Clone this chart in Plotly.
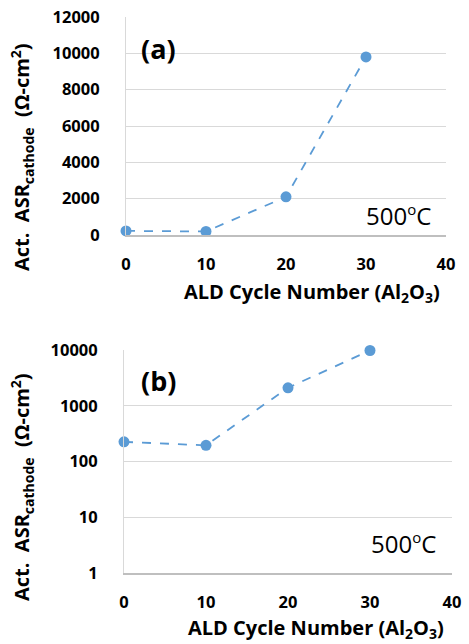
import plotly.graph_objects as go

cycles = [0, 10, 20, 30]
asr = [225, 195, 2100, 9800]
lin_ticks = [0, 2000, 4000, 6000, 8000, 10000, 12000]
log_ticks = [1, 10, 100, 1000, 10000]
x_ticks = [0, 10, 20, 30, 40]

W, H = 469, 644
FONT = "Open Sans"
BLUE = "#5B9BD5"
GRID = "#D9D9D9"

def px(x):
    return x / W

def py(y):
    return 1 - y / H

fig = go.Figure()
for xa, ya in (("x", "y"), ("x2", "y2")):
    fig.add_trace(go.Scatter(
        x=cycles, y=asr, xaxis=xa, yaxis=ya, mode="lines+markers",
        line=dict(color=BLUE, width=1.8, dash="dash"),
        marker=dict(color=BLUE, size=11), showlegend=False, cliponaxis=False))

tickfont = dict(family=FONT, size=16.5, color="black", weight="bold")
xcommon = dict(range=[0, 40], tickvals=x_ticks, showgrid=False, zeroline=False,
               showline=True, linecolor="#BFBFBF", linewidth=1.5, ticks="",
               tickfont=tickfont, ticklabelstandoff=13, automargin=False)
ycommon = dict(showgrid=True, gridcolor=GRID, gridwidth=1, zeroline=False,
               showline=True, linecolor=GRID, linewidth=1, ticks="",
               tickfont=tickfont, ticklabelstandoff=22, automargin=False)

fig.update_layout(
    width=W, height=H, margin=dict(l=0, r=0, t=0, b=0, autoexpand=False),
    paper_bgcolor="white", plot_bgcolor="white",
    xaxis=dict(domain=[px(126), px(446)], anchor="y", **xcommon),
    yaxis=dict(domain=[py(235), py(17)], anchor="x", range=[0, 12000],
               tickvals=lin_ticks, ticktext=[str(v) for v in lin_ticks], **ycommon),
    xaxis2=dict(domain=[px(124), px(452)], anchor="y2", **xcommon),
    yaxis2=dict(domain=[py(573), py(350)], anchor="x2", type="log", range=[0, 4],
                tickvals=log_ticks, ticktext=[str(v) for v in log_ticks], **ycommon),
)

ytitle = "Act.  ASR<sub>cathode</sub>  (Ω-cm<sup>2</sup>)"
xtitle = "ALD Cycle Number (Al<sub>2</sub>O<sub>3</sub>)"
temp = "500<sup><span style='font-size:15px'>o</span></sup>C"
titlefont = dict(family=FONT, size=20, color="black", weight="bold")
ann = [
    dict(text=ytitle, x=px(22), y=py(157), textangle=-90, font=titlefont),
    dict(text=ytitle, x=px(22), y=py(487), textangle=-90, font=titlefont),
    dict(text=xtitle, x=px(312), y=py(292), font=titlefont),
    dict(text=xtitle, x=px(316), y=py(628), font=titlefont),
    dict(text="(a)", x=px(158), y=py(48), font=dict(family=FONT, size=27, color="black", weight="bold")),
    dict(text="(b)", x=px(158), y=py(380), font=dict(family=FONT, size=27, color="black", weight="bold")),
    dict(text=temp, x=px(398), y=py(215), font=dict(family=FONT, size=24, color="black")),
    dict(text=temp, x=px(403), y=py(543), font=dict(family=FONT, size=24, color="black")),
]
for a in ann:
    a.update(xref="paper", yref="paper", showarrow=False, xanchor="center", yanchor="middle")
fig.update_layout(annotations=ann)

fig.write_html(
    "out.html",
    config={"displayModeBar": False},
    post_script="document.body.style.margin='0';document.body.style.overflow='hidden';",
)
